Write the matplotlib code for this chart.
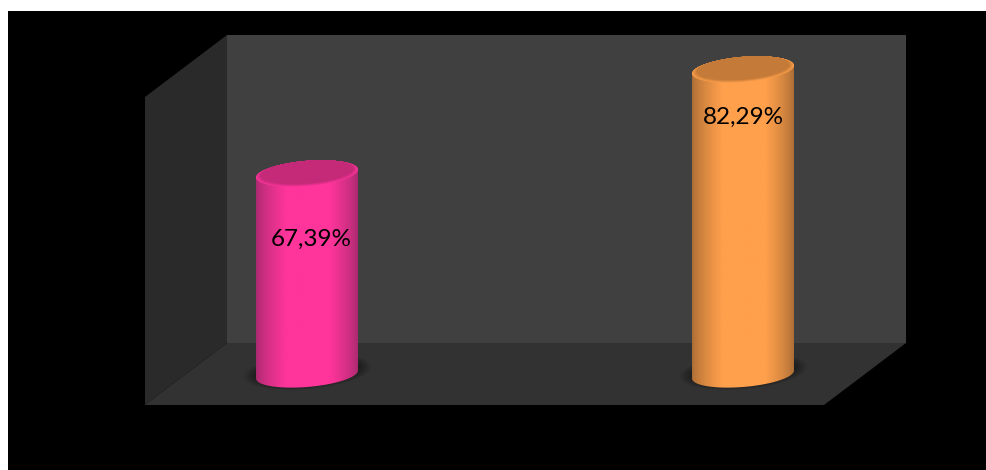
import numpy as np
import matplotlib
matplotlib.use('Agg')
import matplotlib.pyplot as plt
from matplotlib.colors import to_rgb
from matplotlib.patches import Polygon, Rectangle

categories = ['A', 'B']
values = [67.39, 82.29]
value_labels = ['67,39%', '82,29%']
body_colors = ['#ff359b', '#ffa04c']
edge_colors = ['#a82a6e', '#a96c34']
cap_colors = ['#c42a78', '#c47a38']
rim_colors = ['#f8349a', '#fa9e4c']

W, H = 986, 470
# value axis of the chart: where it sits on the canvas
BASE_VALUE = 38.59
BASE_PX = 374.5
PX_PER_UNIT = 6.98
# category axis
FIRST_PX = 307
PX_PER_CAT = 436

fig = plt.figure(figsize=(W / 100, H / 100), dpi=100, facecolor='white')

# backdrop: black panel, walls and floor, in canvas pixels
scene = fig.add_axes([0, 0, 1, 1])
scene.set_xlim(0, W)
scene.set_ylim(H, 0)
scene.axis('off')
scene.add_patch(Rectangle((8, 11), W - 8, H - 11, fc='black', ec='none'))
scene.add_patch(Rectangle((227, 35), 679, 308, fc='#404040', ec='none'))
scene.add_patch(Polygon([(145, 97), (227, 35), (227, 343), (145, 405)], fc='#2a2a2a', ec='none'))
scene.add_patch(Polygon([(145, 405), (227, 343), (906, 343), (824, 405)], fc='#323232', ec='none'))

ax = fig.add_axes([0, 0, 1, 1])
ax.patch.set_alpha(0)
ax.axis('off')
xlim = ((0 - FIRST_PX) / PX_PER_CAT, (W - FIRST_PX) / PX_PER_CAT)
ylim = (BASE_VALUE - (H - BASE_PX) / PX_PER_UNIT, BASE_VALUE + BASE_PX / PX_PER_UNIT)

# cylinder shape, sizes given in pixels and converted to axis units
a = 51 / PX_PER_CAT
b = 12.5 / PX_PER_UNIT
k = 4 / PX_PER_UNIT


def ellipse_points(cx, cy, scale=1.0, t=None):
    if t is None:
        t = np.linspace(0, 2 * np.pi, 120)
    x = cx + scale * a * np.cos(t)
    y = cy + scale * (b * np.sin(t) + k * np.cos(t))
    return np.column_stack([x, y])


def draw_shadow(cx):
    # soft dark pool on the floor under the cylinder
    xs = np.linspace(cx - 1.5 * a, cx + 1.5 * a, 200)
    ys = np.linspace(BASE_VALUE - 3.2 * b, BASE_VALUE + 3.2 * b, 120)
    xx, yy = np.meshgrid(xs, ys)
    u = (xx - cx) / (1.27 * a)
    v = (yy - BASE_VALUE - 0.2 * b - k * (xx - cx) / a) / (1.45 * b)
    r = np.sqrt(u ** 2 + v ** 2)
    alpha = np.clip((1.0 - r) / 0.3, 0, 1) * 0.6
    rgba = np.zeros(alpha.shape + (4,))
    rgba[..., 3] = alpha
    ax.imshow(rgba, extent=(xs[0], xs[-1], ys[0], ys[-1]), origin='lower',
              aspect='auto', zorder=1, interpolation='bilinear')


def draw_body(cx, value, body, edge):
    lower = ellipse_points(cx, BASE_VALUE, t=np.linspace(np.pi, 2 * np.pi, 80))
    upper = ellipse_points(cx, value, t=np.linspace(0, np.pi, 80))
    outline = Polygon(np.vstack([lower, upper]), closed=True, transform=ax.transData, fc='none', ec='none')
    ax.add_patch(outline)

    # smooth falloff from the bright middle to the dark sides
    u = np.linspace(0, 1, 256)
    left = np.clip(u / 0.30, 0, 1)
    right = np.clip((1 - u) / 0.28, 0, 1)
    light = np.minimum(left, right) ** 0.7
    c0, c1 = np.array(to_rgb(edge)), np.array(to_rgb(body))
    shade = c0[None, :] + (c1 - c0)[None, :] * light[:, None]
    im = ax.imshow(shade[None, :, :],
                   extent=(cx - a, cx + a, BASE_VALUE - 2 * b, value + 2 * b),
                   aspect='auto', zorder=2, interpolation='bilinear')
    im.set_clip_path(outline)


def draw_cap(cx, value, rim, cap):
    # bevel: lighter towards the front edge, blending into the flat top
    steps = 16
    for i in range(steps):
        f = i / (steps - 1)
        col = np.add(np.multiply(to_rgb(rim), 1 - f), np.multiply(to_rgb(cap), f))
        scale = 1.0 - 0.10 * f
        shift = 0.12 * b * f
        ax.add_patch(Polygon(ellipse_points(cx, value + shift, scale), fc=col, ec='none', zorder=3 + 0.01 * i))


positions = np.arange(len(categories))
for pos, val, body, edge, cap, rim in zip(positions, values, body_colors, edge_colors, cap_colors, rim_colors):
    draw_shadow(pos)
    draw_body(pos, val, body, edge)
    draw_cap(pos, val, rim, cap)

# labels sit inside the cylinders, each at its own distance below the top
label_dx = [4 / PX_PER_CAT, 0]
label_drop = [65.5 / PX_PER_UNIT, 47.5 / PX_PER_UNIT]
for pos, val, text, dx, drop in zip(positions, values, value_labels, label_dx, label_drop):
    ax.text(pos + dx, val - drop, text, ha='center', va='center', color='black',
            fontsize=17.5, family=['Lato', 'DejaVu Sans'], zorder=5)

ax.set_xlim(*xlim)
ax.set_ylim(*ylim)

fig.savefig('out.png', dpi=100, facecolor='white')
